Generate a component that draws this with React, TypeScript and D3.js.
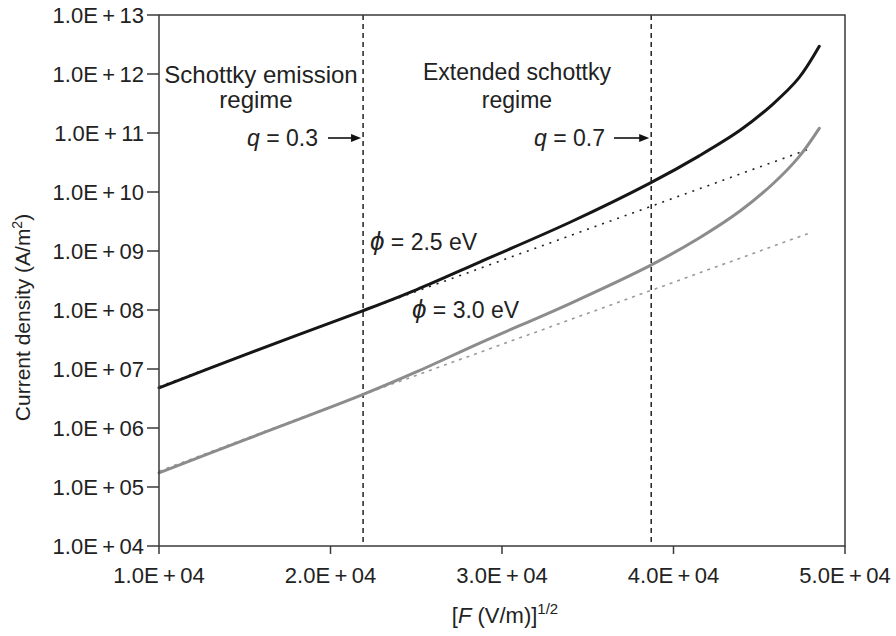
import React from 'react';
import * as d3 from 'd3';

// sqrt(F) values, (V/m)^1/2
const fieldX = [1.0e4, 1.5e4, 2.18e4, 2.5e4, 2.87e4, 3.4e4, 3.86e4, 4.15e4, 4.39e4, 4.58e4, 4.73e4, 4.85e4];
// current density, A/m^2
const phi25 = [4.8e6, 1.74e7, 9.5e7, 2.2e8, 6.5e8, 3.1e9, 1.4e10, 4.1e10, 1.12e11, 3.1e11, 8.5e11, 2.95e12];
const phi30 = [1.74e5, 6.3e5, 3.6e6, 8.9e6, 2.75e7, 1.3e8, 5.6e8, 1.66e9, 4.8e9, 1.38e10, 3.9e10, 1.2e11];

// straight Schottky fits
const fitX = [1.0e4, 2.18e4, 3.86e4, 4.81e4];
const fit25 = [5.0e6, 9.5e7, 5.6e9, 5.6e10];
const fit30 = [1.85e5, 3.6e6, 2.1e8, 2.1e9];

const regimeLines = [2.19e4, 3.87e4];

const xTicks = [1e4, 2e4, 3e4, 4e4, 5e4];
const yTicks = [1e4, 1e5, 1e6, 1e7, 1e8, 1e9, 1e10, 1e11, 1e12, 1e13];

const W = 896;
const H = 636;
const margin = { top: 15, right: 51, bottom: 90, left: 159 };

const font = '"Liberation Sans", Arial, Helvetica, sans-serif';

const sci = (v: number) => {
  const e = Math.floor(Math.log10(v) + 1e-9);
  const m = v / Math.pow(10, e);
  return `${m.toFixed(1)}E\u2009+\u2009${String(e).padStart(2, '0')}`;
};

export default function App() {
  const x = d3.scaleLinear().domain([1e4, 5e4]).range([margin.left, W - margin.right]);
  const y = d3.scaleLog().domain([1e4, 1e13]).range([H - margin.bottom, margin.top]);
  const x0 = x.range()[0], x1 = x.range()[1];
  const yb = y.range()[0], yt = y.range()[1];

  const curve = d3.line<[number, number]>()
    .x(d => x(d[0]))
    .y(d => y(d[1]))
    .curve(d3.curveCatmullRom.alpha(0.5));
  const straight = d3.line<[number, number]>()
    .x(d => x(d[0]))
    .y(d => y(d[1]));

  const zip = (a: number[], b: number[]) => a.map((v, i) => [v, b[i]] as [number, number]);

  const axisColor = '#3a3a3a';
  const textColor = '#222';

  return (
    <svg width={W} height={H} style={{ position: 'absolute', left: 0, top: 0, background: '#fff' }}
      fontFamily={font}>
      {/* regime boundaries */}
      {regimeLines.map(v => (
        <line key={v} x1={x(v)} x2={x(v)} y1={yt} y2={yb}
          stroke="#111" strokeWidth={1.4} strokeDasharray="5,4" />
      ))}

      {/* fits */}
      <path d={straight(zip(fitX, fit30)) || ''} fill="none" stroke="#9a9a9a"
        strokeWidth={1.6} strokeDasharray="3,5" />
      <path d={straight(zip(fitX, fit25)) || ''} fill="none" stroke="#222"
        strokeWidth={1.6} strokeDasharray="2,6" />

      {/* curves */}
      <path d={curve(zip(fieldX, phi30)) || ''} fill="none" stroke="#8c8c8c" strokeWidth={3} strokeLinecap="round" />
      <path d={curve(zip(fieldX, phi25)) || ''} fill="none" stroke="#161616" strokeWidth={3} strokeLinecap="round" />

      {/* frame */}
      <rect x={x0} y={yt} width={x1 - x0} height={yb - yt} fill="none" stroke={axisColor} strokeWidth={1.5} />

      {/* y ticks */}
      {yTicks.map(t => (
        <g key={t}>
          <line x1={x0 - 12} x2={x0} y1={y(t)} y2={y(t)} stroke={axisColor} strokeWidth={1.5} />
          <text x={x0 - 15} y={y(t)} dy="0.36em" textAnchor="end" fontSize={22} fill={textColor}>{sci(t)}</text>
        </g>
      ))}

      {/* x ticks */}
      {xTicks.map(t => (
        <g key={t}>
          <line x1={x(t)} x2={x(t)} y1={yb} y2={yb + 8} stroke={axisColor} strokeWidth={1.5} />
          <text x={x(t)} y={yb + 37} textAnchor="middle" fontSize={22} fill={textColor}>{sci(t)}</text>
        </g>
      ))}

      {/* axis titles */}
      <text transform={`translate(30, ${(yt + yb) / 2 + 37}) rotate(-90)`} textAnchor="middle"
        fontSize={21} fill={textColor}>
        Current density (A/m<tspan dy="-8" fontSize={14}>2</tspan><tspan dy="8">)</tspan>
      </text>
      <text x={(x0 + x1) / 2 + 3} y={H - 13} textAnchor="middle" fontSize={22} fill={textColor}>
        [<tspan fontStyle="italic">F</tspan> (V/m)]<tspan dy="-9" fontSize={15}>1/2</tspan>
      </text>

      {/* regime annotations */}
      <text x={261} y={83} textAnchor="middle" fontSize={24} fill={textColor}>Schottky emission</text>
      <text x={256} y={108} textAnchor="middle" fontSize={24} fill={textColor}>regime</text>
      <text x={517} y={80} textAnchor="middle" fontSize={23} fill={textColor}>Extended schottky</text>
      <text x={517} y={108} textAnchor="middle" fontSize={23} fill={textColor}>regime</text>

      <text x={318} y={146} textAnchor="end" fontSize={23} fill={textColor}>
        <tspan fontStyle="italic">q</tspan> = 0.3
      </text>
      <text x={605} y={146} textAnchor="end" fontSize={23} fill={textColor}>
        <tspan fontStyle="italic">q</tspan> = 0.7
      </text>
      {[{ a: 328, b: x(regimeLines[0]) - 2 }, { a: 614, b: x(regimeLines[1]) - 2 }].map((r, i) => (
        <g key={i}>
          <line x1={r.a} x2={r.b - 6} y1={138} y2={138} stroke="#111" strokeWidth={1.6} />
          <path d={`M${r.b},138 L${r.b - 10},134 L${r.b - 10},142 Z`} fill="#111" />
        </g>
      ))}

      <text x={370} y={250} fontSize={23} fill={textColor}>
        <tspan fontStyle="italic" fontSize={26}>{'\u03D5'}</tspan> = 2.5 eV
      </text>
      <text x={412} y={318} fontSize={23} fill={textColor}>
        <tspan fontStyle="italic" fontSize={26}>{'\u03D5'}</tspan> = 3.0 eV
      </text>
    </svg>
  );
}
